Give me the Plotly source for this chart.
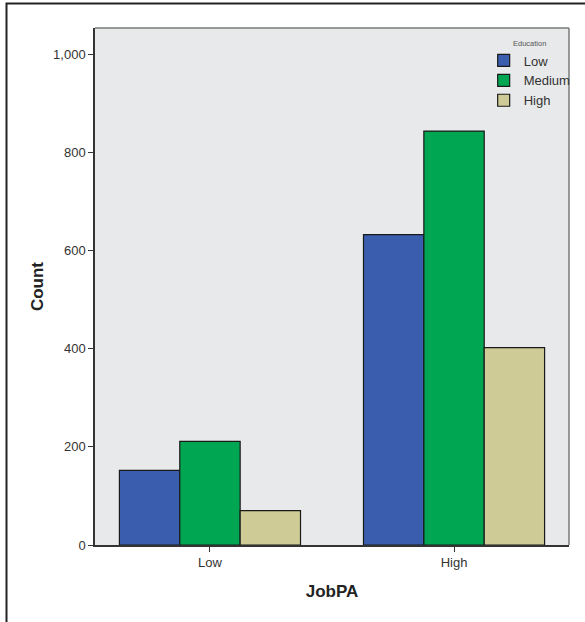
import plotly.graph_objects as go

categories = ["Low", "High"]
series_names = ["Low", "Medium", "High"]
values_low = [152, 632]
values_medium = [211, 843]
values_high = [70, 402]
colors = ["#3A5DAE", "#00A651", "#CFCB96"]
y_ticks = [0, 200, 400, 600, 800, 1000]
y_tick_labels = ["0", "200", "400", "600", "800", "1,000"]

fig = go.Figure()
for name, vals, col in zip(series_names, [values_low, values_medium, values_high], colors):
    fig.add_trace(go.Bar(
        x=categories, y=vals, name=name,
        marker=dict(color=col, line=dict(color="#1a1a1a", width=1.2)),
    ))

fig.update_layout(
    width=585, height=622,
    autosize=False,
    margin=dict(l=95, r=16, t=28, b=77, autoexpand=False),
    paper_bgcolor="white",
    plot_bgcolor="#E8E9EA",
    barmode="group",
    bargap=0.258,
    bargroupgap=0,
    font=dict(family="Liberation Sans, Arial, sans-serif", color="#333333", size=13),
    showlegend=True,
    legend=dict(
        x=0.82, y=0.985, xanchor="left", yanchor="top",
        bgcolor="rgba(0,0,0,0)",
        title=dict(text="Education", font=dict(size=7.5, color="#555555"), side="top center"),
        font=dict(size=13, color="#333333"),
        itemwidth=30, tracegroupgap=0,
    ),
    xaxis=dict(
        type="category",
        range=[-0.471, 1.471],
        showline=True, linecolor="#333333", linewidth=1.5,
        ticks="outside", ticklen=5, tickcolor="#333333",
        tickfont=dict(size=13, color="#333333"),
        title=dict(text="<b>JobPA</b>", font=dict(size=17, color="#222222"), standoff=16),
        mirror=False,
    ),
    yaxis=dict(
        range=[0, 1053],
        tickvals=y_ticks, ticktext=y_tick_labels,
        showgrid=False, zeroline=False,
        showline=True, linecolor="#333333", linewidth=1.5,
        ticks="outside", ticklen=5, tickcolor="#333333",
        tickfont=dict(size=13, color="#333333"),
        title=dict(text="<b>Count</b>", font=dict(size=17, color="#222222"), standoff=5),
    ),
    shapes=[
        dict(type="line", xref="paper", yref="paper", x0=0, x1=1, y0=1, y1=1,
             line=dict(color="#7a7a7a", width=1.5)),
        dict(type="line", xref="paper", yref="paper", x0=1, x1=1, y0=0, y1=1,
             line=dict(color="#7a7a7a", width=1.5)),
        # outer frame
        dict(type="rect", xref="paper", yref="paper",
             x0=(6.5 - 95) / 474, x1=1.2, y0=-0.5, y1=1 + (28 - 3.5) / 517,
             line=dict(color="#222222", width=2), fillcolor="rgba(0,0,0,0)", layer="above"),
    ],
)

fig.write_html(
    "out.html",
    config={"responsive": False, "displayModeBar": False},
    post_script="document.body.style.margin='0';document.body.style.overflow='hidden';"
                "document.documentElement.style.overflow='hidden';",
)
